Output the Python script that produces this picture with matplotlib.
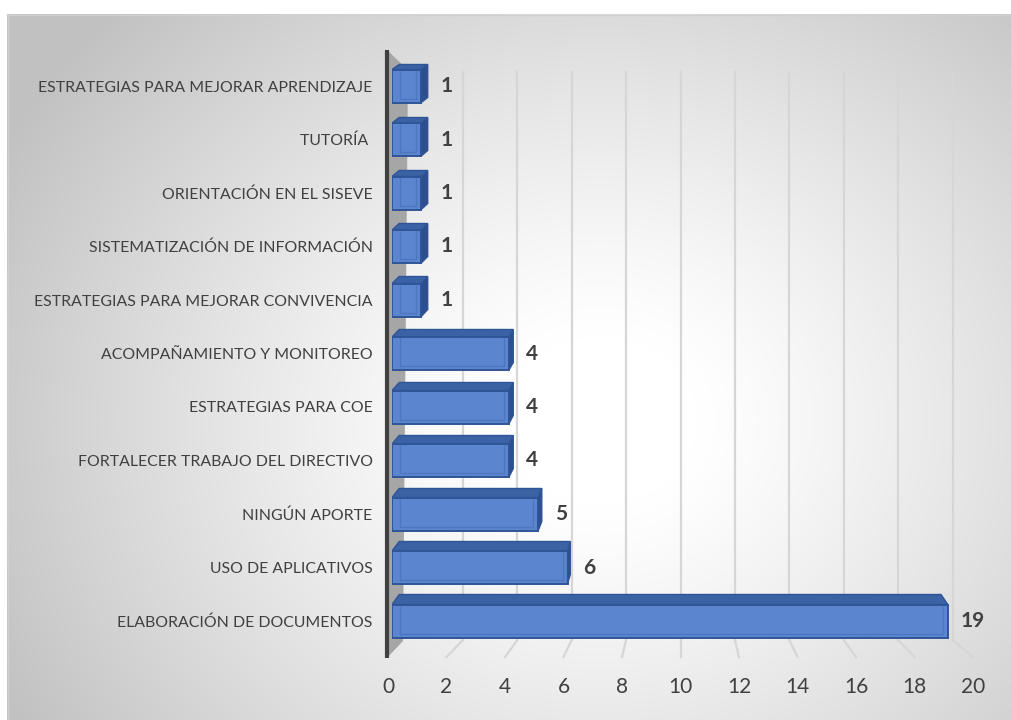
import numpy as np
import matplotlib
matplotlib.use("Agg")
import matplotlib.pyplot as plt
from matplotlib.patches import Polygon
from matplotlib.transforms import ScaledTranslation

plt.rcParams["font.family"] = ["Lato", "DejaVu Sans"]

# ---- data (top to bottom) ----
categories = [
    "ESTRATEGIAS PARA MEJORAR APRENDIZAJE",
    "TUTORÍA ",
    "ORIENTACIÓN EN EL SISEVE",
    "SISTEMATIZACIÓN DE INFORMACIÓN",
    "ESTRATEGIAS PARA MEJORAR CONVIVENCIA",
    "ACOMPAÑAMIENTO Y MONITOREO",
    "ESTRATEGIAS PARA COE",
    "FORTALECER TRABAJO DEL DIRECTIVO",
    "NINGÚN APORTE",
    "USO DE APLICATIVOS",
    "ELABORACIÓN DE DOCUMENTOS",
]
values = [1, 1, 1, 1, 1, 4, 4, 4, 5, 6, 19]
xticks = list(range(0, 21, 2))

W, H = 1011, 720
fig = plt.figure(figsize=(W / 100, H / 100), dpi=100)

# ---- chart-area background: soft radial gradient ----
bg = fig.add_axes([0, 0, 1, 1], zorder=-10)
bg.set_xlim(0, W)
bg.set_ylim(H, 0)
bg.axis("off")
yy, xx = np.mgrid[0:H, 0:W]
r = np.hypot((xx - 600) / 640, (yy - 420) / 560)
t = np.clip((r - 0.15) / 0.9, 0, 1)
shade = 1 - 0.24 * t ** 1.2
img = np.dstack([shade] * 3)
img[:14, :] = 1
img[:, :7] = 1
bg.imshow(img, extent=(0, W, H, 0), interpolation="bilinear", aspect="auto")
bg.plot([7, W], [14.5, 14.5], color="#d0d0d0", lw=1)
bg.plot([7.5, 7.5], [14, H], color="#d0d0d0", lw=1)

# ---- plot axes ----
X0, X20 = 392, 977          # pixel span of values 0..20
ROW0, STEP = 86, 53.5       # pixel centre of first row, row spacing
ytop_px = ROW0 - STEP / 2
ybot_px = ROW0 + (len(categories) - 0.5) * STEP
ax = fig.add_axes([X0 / W, (H - ybot_px) / H, (X20 - X0) / W, (ybot_px - ytop_px) / H])
ax.set_xlim(0, 20)
ax.set_ylim(len(categories) - 0.5, -0.5)
ax.patch.set_alpha(0)
for s in ax.spines.values():
    s.set_visible(False)

ppx = (X20 - X0) / 20.0  # pixels per unit along x


def DX(p):
    return p / ppx


def DY(p):
    return p / STEP


def P(xp, yp):
    return ((xp - X0) / ppx, -0.5 + (yp - ytop_px) / STEP)


# side wall and vertical axis line
wall = Polygon([P(387, 50), P(408, 70), P(403, 641), P(387, 658)],
               closed=True, facecolor="#a6a6a6", edgecolor="none",
               zorder=1, clip_on=False)
ax.add_patch(wall)
ax.plot([P(387, 50)[0]] * 2, [P(0, 50)[1], P(0, 658)[1]],
        color="#404040", lw=3, solid_capstyle="butt", zorder=2, clip_on=False)

# back-wall and floor gridlines
back_scale = 27.2 / ppx
back_off = DX(408.5 - X0)
y_back_top = P(0, 72)[1]
y_back_bot = P(0, 640)[1]
y_front = P(0, 657)[1]
for v in xticks[1:]:
    xb = back_off + v * back_scale
    xf = v - DX(4)
    ax.plot([xb, xb], [y_back_top, y_back_bot], color="#d6d6d6", lw=1.6,
            zorder=0.5, clip_on=False)
    ax.plot([xb, xf], [y_back_bot, y_front], color="#d6d6d6", lw=1.6,
            zorder=0.5, clip_on=False)

# ---- bars with a 3-D look ----
ypos = np.arange(len(categories))
bh = 33 / STEP
front = "#5b86cf"
edge = "#2f5597"
ax.barh(ypos, values, height=bh, color=front, edgecolor=edge, lw=1.4, zorder=4)

dx0 = (680 - X0) * 0.025
for i, v in enumerate(values):
    xend_px = X0 + v * ppx
    dxe = (680 - xend_px) * 0.025
    dd = 5 + 0.5 * i
    yt = i - bh / 2
    yb = i + bh / 2
    top = Polygon([(0, yt), (v, yt), (v + DX(dxe), yt - DY(dd)),
                   (DX(dx0), yt - DY(dd))], closed=True,
                  facecolor="#3c62a6", edgecolor=edge, lw=1.0, zorder=3.8)
    ax.add_patch(top)
    if dxe > 0:
        side = Polygon([(v, yt), (v + DX(dxe), yt - DY(dd)),
                        (v + DX(dxe), yb - DY(dd)), (v, yb)], closed=True,
                       facecolor="#2d4f8f", edgecolor=edge, lw=1.0, zorder=4.2)
        ax.add_patch(side)
    # bevel lines on the front face
    xl, xr = DX(8), v - DX(5)
    yl = yb - DY(4)
    ax.plot([xl, xl, xr, xr], [yt + DY(1), yl, yl, yt + DY(1)],
            color="#4a72bb", lw=1.0, alpha=0.8, zorder=4.3)
    ax.text(v + DX(max(dxe, 0) + 13), i, str(v), ha="left", va="center",
            fontsize=15, fontweight="bold", color="#404040", zorder=5)

# ---- ticks and labels ----
ax.set_yticks(ypos)
ax.set_yticklabels(categories, fontsize=11.45, color="#404040")
ax.tick_params(axis="y", length=0, pad=14)
ax.set_xticks(xticks)
ax.set_xticklabels([str(v) for v in xticks], fontsize=15, color="#404040")
ax.tick_params(axis="x", length=0, pad=21)
shift = ScaledTranslation(-4 / 100, 0, fig.dpi_scale_trans)
for lbl in ax.get_xticklabels():
    lbl.set_transform(lbl.get_transform() + shift)

fig.savefig("out.png", dpi=100)
